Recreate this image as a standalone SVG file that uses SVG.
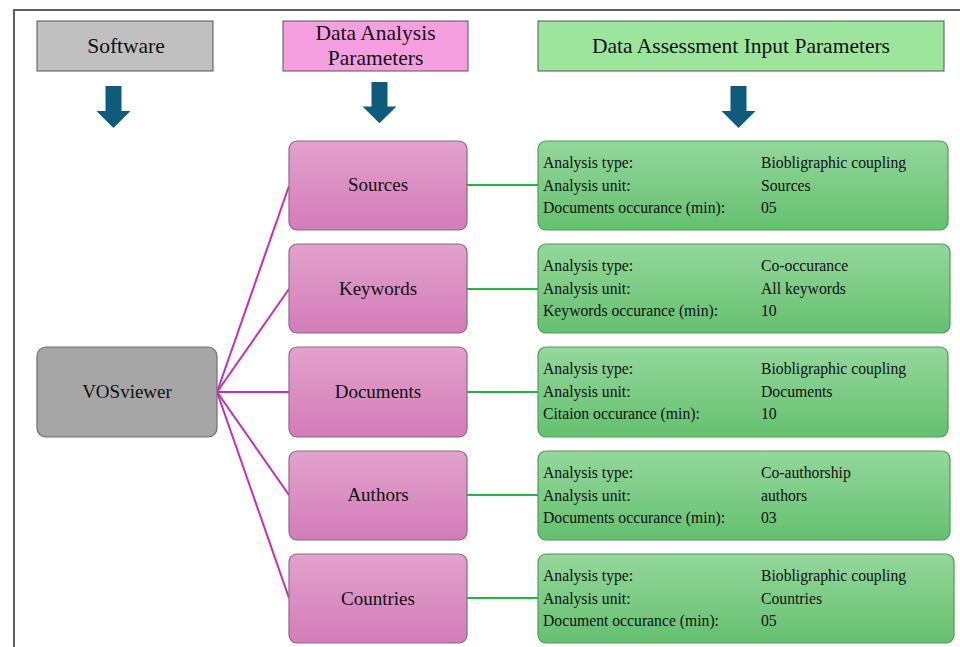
<svg xmlns="http://www.w3.org/2000/svg" width="960" height="647" viewBox="0 0 960 647" font-family="'Liberation Serif', 'Times New Roman', 'DejaVu Serif', serif">
<defs>
<linearGradient id="gPink" x1="0" y1="0" x2="0" y2="1">
<stop offset="0" stop-color="#e2a2cb"/>
<stop offset="1" stop-color="#d37cb9"/>
</linearGradient>
<linearGradient id="gGreen" x1="0" y1="0" x2="0" y2="1">
<stop offset="0" stop-color="#94d79c"/>
<stop offset="1" stop-color="#65c06f"/>
</linearGradient>
<path id="arrow" d="M-8,0 H8 V25 H17 L0,42 L-17,25 H-8 Z"/>
</defs>
<style>
text{font-family:'Liberation Serif','Times New Roman','DejaVu Serif',serif;fill:#111;}
.hdr{font-size:21.5px;text-anchor:middle;}
.pk{font-size:19px;text-anchor:middle;}
.gt{font-size:15.7px;}
.pinkbox{fill:url(#gPink);stroke:#8c6a84;stroke-width:1.2;}
.greenbox{fill:url(#gGreen);stroke:#4f9a5c;stroke-width:1.2;}
.arr{fill:#0f5b7c;}
.mag{stroke:#c231b2;stroke-width:2;fill:none;}
.grn{stroke:#22b444;stroke-width:2;fill:none;}
</style>
<rect width="960" height="647" fill="#ffffff"/>
<path d="M14,648 V10 H961" fill="none" stroke="#5e5e5e" stroke-width="2"/>

<g id="hdr-software">
<rect x="37" y="21" width="176" height="50" fill="#c0c0c0" stroke="#555" stroke-width="1"/>
<text class="hdr" x="126" y="53">Software</text>
</g>
<g id="hdr-analysis">
<rect x="283" y="21" width="185" height="50" fill="#f59fe0" stroke="#555" stroke-width="1"/>
<text class="hdr" x="375.5" y="40">Data Analysis</text>
<text class="hdr" x="375.5" y="65">Parameters</text>
</g>
<g id="hdr-assessment">
<rect x="538" y="21" width="406" height="50" fill="#9de49d" stroke="#555" stroke-width="1"/>
<text class="hdr" x="741" y="53">Data Assessment Input Parameters</text>
</g>

<g id="arrows">
<use href="#arrow" class="arr" transform="translate(113.5,86)"/>
<use href="#arrow" class="arr" transform="translate(379.5,82) scale(1,0.98)"/>
<use href="#arrow" class="arr" transform="translate(738.5,86)"/>
</g>

<g id="connectors">
<path class="mag" d="M217,392 L289,186"/>
<path class="mag" d="M217,392 L289,289"/>
<path class="mag" d="M217,392 L289,392"/>
<path class="mag" d="M217,392 L289,495"/>
<path class="mag" d="M217,392 L289,598"/>
<path class="grn" d="M467,185 H538"/>
<path class="grn" d="M467,289 H538"/>
<path class="grn" d="M467,392 H538"/>
<path class="grn" d="M467,495 H538"/>
<path class="grn" d="M467,598 H538"/>
</g>

<g id="vosviewer">
<rect x="37" y="347" width="180" height="90" rx="9" fill="#a6a6a6" stroke="#707070" stroke-width="1.2"/>
<text class="pk" x="127" y="398">VOSviewer</text>
</g>

<g id="sources">
<rect class="pinkbox" x="289" y="141" width="178" height="89" rx="8"/>
<text class="pk" x="378" y="191">Sources</text>
</g>
<g id="keywords">
<rect class="pinkbox" x="289" y="244" width="178" height="89" rx="8"/>
<text class="pk" x="378" y="295">Keywords</text>
</g>
<g id="documents">
<rect class="pinkbox" x="289" y="347" width="178" height="90" rx="8"/>
<text class="pk" x="378" y="398">Documents</text>
</g>
<g id="authors">
<rect class="pinkbox" x="289" y="451" width="178" height="89" rx="8"/>
<text class="pk" x="378" y="501">Authors</text>
</g>
<g id="countries">
<rect class="pinkbox" x="289" y="554" width="178" height="89" rx="8"/>
<text class="pk" x="378" y="605">Countries</text>
</g>

<g id="params-sources">
<rect class="greenbox" x="538" y="141" width="410" height="89" rx="8"/>
<text class="gt" x="543" y="168">Analysis type:</text>
<text class="gt" x="761" y="168">Biobligraphic coupling</text>
<text class="gt" x="543" y="191">Analysis unit:</text>
<text class="gt" x="761" y="191">Sources</text>
<text class="gt" x="543" y="213">Documents occurance (min):</text>
<text class="gt" x="761" y="213">05</text>
</g>
<g id="params-keywords">
<rect class="greenbox" x="538" y="244" width="412" height="89" rx="8"/>
<text class="gt" x="543" y="271">Analysis type:</text>
<text class="gt" x="761" y="271">Co-occurance</text>
<text class="gt" x="543" y="294">Analysis unit:</text>
<text class="gt" x="761" y="294">All keywords</text>
<text class="gt" x="543" y="316">Keywords occurance (min):</text>
<text class="gt" x="761" y="316">10</text>
</g>
<g id="params-documents">
<rect class="greenbox" x="538" y="347" width="410" height="90" rx="8"/>
<text class="gt" x="543" y="374">Analysis type:</text>
<text class="gt" x="761" y="374">Biobligraphic coupling</text>
<text class="gt" x="543" y="397">Analysis unit:</text>
<text class="gt" x="761" y="397">Documents</text>
<text class="gt" x="543" y="419">Citaion occurance (min):</text>
<text class="gt" x="761" y="419">10</text>
</g>
<g id="params-authors">
<rect class="greenbox" x="538" y="451" width="412" height="89" rx="8"/>
<text class="gt" x="543" y="478">Analysis type:</text>
<text class="gt" x="761" y="478">Co-authorship</text>
<text class="gt" x="543" y="501">Analysis unit:</text>
<text class="gt" x="761" y="501">authors</text>
<text class="gt" x="543" y="523">Documents occurance (min):</text>
<text class="gt" x="761" y="523">03</text>
</g>
<g id="params-countries">
<rect class="greenbox" x="538" y="554" width="416" height="89" rx="8"/>
<text class="gt" x="543" y="581">Analysis type:</text>
<text class="gt" x="761" y="581">Biobligraphic coupling</text>
<text class="gt" x="543" y="604">Analysis unit:</text>
<text class="gt" x="761" y="604">Countries</text>
<text class="gt" x="543" y="626">Document occurance (min):</text>
<text class="gt" x="761" y="626">05</text>
</g>
</svg>
